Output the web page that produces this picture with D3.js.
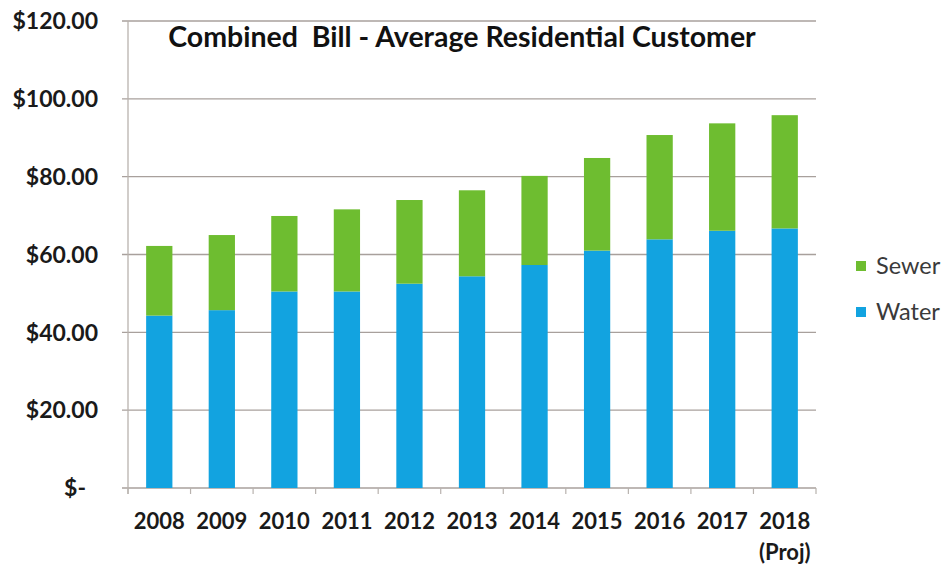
<!DOCTYPE html>
<html>
<head>
<meta charset="utf-8">
<script src="https://cdn.jsdelivr.net/npm/d3@7/dist/d3.min.js"></script>
<style>
  html, body { margin: 0; padding: 0; background: #ffffff; }
  svg { display: block; }
  text { font-family: Lato, "Open Sans", sans-serif; }
</style>
</head>
<body>
<svg id="chart" width="946" height="569"></svg>
<script>
// Average residential bill by year, split into water and sewer charges ($)
const years = ["2008", "2009", "2010", "2011", "2012", "2013", "2014", "2015", "2016", "2017", "2018"];
const yearNotes = ["", "", "", "", "", "", "", "", "", "", "(Proj)"];
const water = [44.3, 45.7, 50.5, 50.5, 52.5, 54.4, 57.3, 61.0, 63.9, 66.1, 66.7];
const sewer = [17.9, 19.3, 19.4, 21.1, 21.5, 22.1, 22.9, 23.8, 26.8, 27.6, 29.1];
const seriesNames = ["Water", "Sewer"];
const seriesColors = ["#12a3e0", "#6ebd30"];
const yTicks = [0, 20, 40, 60, 80, 100, 120];
const titleText = "Combined  Bill - Average Residential Customer";

const svg = d3.select("#chart");
const plotLeft = 128, plotRight = 816, plotTop = 21, plotBottom = 488;

const x = d3.scaleBand().domain(years).range([plotLeft, plotRight]).paddingInner(0.58).paddingOuter(0.29);
const y = d3.scaleLinear().domain([0, 120]).range([plotBottom, plotTop]);

// Gridlines
svg.append("g")
  .selectAll("line")
  .data(yTicks)
  .join("line")
  .attr("x1", plotLeft - 6)
  .attr("x2", plotRight)
  .attr("y1", d => y(d))
  .attr("y2", d => y(d))
  .attr("stroke", "#a8a09c")
  .attr("stroke-width", 1.3);

// Vertical axis line
svg.append("line")
  .attr("x1", plotLeft).attr("x2", plotLeft)
  .attr("y1", y(120)).attr("y2", plotBottom + 6)
  .attr("stroke", "#b8b2ae").attr("stroke-width", 1.3);

// Category tick marks at band boundaries
const step = x.step();
const boundaries = d3.range(years.length + 1).map(i => plotLeft + i * step);
svg.append("g")
  .selectAll("line")
  .data(boundaries)
  .join("line")
  .attr("x1", d => d).attr("x2", d => d)
  .attr("y1", plotBottom).attr("y2", plotBottom + 6)
  .attr("stroke", "#b8b2ae").attr("stroke-width", 1.2);

// Stacked bars
const rows = years.map((yr, i) => ({ year: yr, Water: water[i], Sewer: sewer[i] }));
const stack = d3.stack().keys(seriesNames)(rows);
const color = d3.scaleOrdinal().domain(seriesNames).range(seriesColors);

svg.append("g")
  .selectAll("g")
  .data(stack)
  .join("g")
  .attr("fill", d => color(d.key))
  .selectAll("rect")
  .data(d => d)
  .join("rect")
  .attr("x", d => x(d.data.year))
  .attr("width", x.bandwidth())
  .attr("y", d => y(d[1]))
  .attr("height", d => y(d[0]) - y(d[1]));

// Y tick labels
const fmt = v => v === 0 ? "$-" : "$" + d3.format(".2f")(v);
svg.append("g")
  .selectAll("text")
  .data(yTicks)
  .join("text")
  .attr("x", d => d === 0 ? 86 : 98)
  .attr("y", d => y(d))
  .attr("dy", "0.36em")
  .attr("text-anchor", "end")
  .attr("font-size", 23)
  .attr("font-weight", 700)
  .attr("fill", "#1a1a1a")
  .text(fmt);

// X tick labels
const xl = svg.append("g");
xl.selectAll("text.yr")
  .data(years)
  .join("text")
  .attr("class", "yr")
  .attr("x", d => x(d) + x.bandwidth() / 2)
  .attr("y", 529)
  .attr("text-anchor", "middle")
  .attr("font-size", 22)
  .attr("font-weight", 700)
  .attr("fill", "#1a1a1a")
  .text(d => d);
xl.selectAll("text.note")
  .data(years.filter((d, i) => yearNotes[i]))
  .join("text")
  .attr("class", "note")
  .attr("x", d => x(d) + x.bandwidth() / 2)
  .attr("y", 560)
  .attr("text-anchor", "middle")
  .attr("font-size", 22)
  .attr("font-weight", 700)
  .attr("fill", "#1a1a1a")
  .text(d => yearNotes[years.indexOf(d)]);

// Title
svg.append("text")
  .attr("x", 462)
  .attr("y", 47)
  .attr("text-anchor", "middle")
  .attr("font-size", 28.5)
  .attr("font-weight", 700)
  .attr("fill", "#111")
  .style("white-space", "pre")
  .text(titleText);

// Legend (Sewer on top, Water below)
const legendItems = ["Sewer", "Water"];
const lg = svg.append("g");
legendItems.forEach((name, i) => {
  const cy = 266 + i * 46;
  lg.append("rect")
    .attr("x", 856).attr("y", cy - 5)
    .attr("width", 10).attr("height", 10)
    .attr("fill", color(name));
  lg.append("text")
    .attr("x", 876).attr("y", cy)
    .attr("dy", "0.36em")
    .attr("font-size", 23.5)
    .attr("fill", "#3a3a3a")
    .text(name);
});
</script>
</body>
</html>
